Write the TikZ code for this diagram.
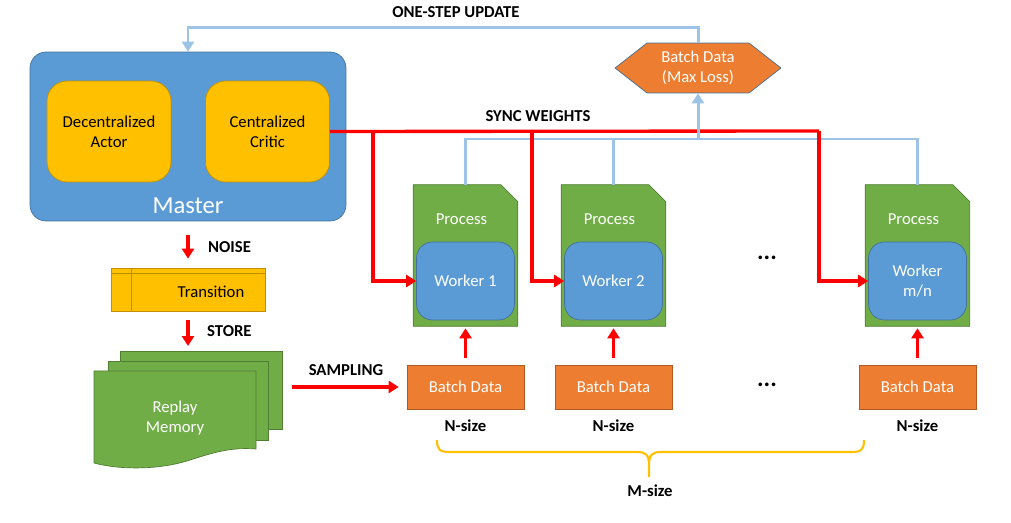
\documentclass[tikz,border=0pt]{standalone}
\usepackage{fontspec}
\setmainfont{Carlito}
\usetikzlibrary{arrows.meta,shapes.symbols,positioning}

\definecolor{masterblue}{HTML}{5B9BD5}
\definecolor{blueborder}{HTML}{41719C}
\definecolor{gold}{HTML}{FFC000}
\definecolor{goldborder}{HTML}{BF9000}
\definecolor{procgreen}{HTML}{70AD47}
\definecolor{greenborder}{HTML}{507E32}
\definecolor{batchorange}{HTML}{ED7D31}
\definecolor{orangeborder}{HTML}{AE5A21}
\definecolor{updateblue}{HTML}{9DC3E6}

\begin{document}
\begin{tikzpicture}[x=0.02cm, y=-0.02cm, >={Triangle[length=0.2cm,width=0.24cm]},
  every node/.style={font=\fontsize{9.5}{11.5}\selectfont},
  box/.style={rectangle, rounded corners=0.32cm, draw=blueborder, fill=masterblue, text=white, align=center},
  agent/.style={rectangle, rounded corners=0.4cm, draw=goldborder, fill=gold, align=center, minimum width=2.48cm, minimum height=2.02cm},
  process/.style={rectangle, minimum width=2.08cm, minimum height=2.82cm, inner sep=0pt},
  worker/.style={box, minimum width=1.96cm, minimum height=1.56cm},
  batch/.style={rectangle, draw=orangeborder, fill=batchorange, text=white, minimum width=2.34cm, minimum height=0.88cm},
  tag/.style={font=\fontsize{9.5}{11.5}\selectfont\bfseries},
  sync/.style={red, line width=1.9pt},
  update/.style={updateblue, line width=1.7pt},
  sheet/.style={fill=procgreen, draw=greenborder}]

\useasboundingbox (0,0) rectangle (1011,523);

\node [box, minimum width=6.32cm, minimum height=3.38cm] (master) at (188,136.5) {};
\node [text=white, font=\fontsize{14}{16}\selectfont] (master-lbl) at (188,206) {Master};
\node [agent] (actor) at (109,131.5) {Decentralized\\Actor};
\node [agent] (critic) at (267.5,131.5) {Centralized\\Critic};

\node [signal, signal to=west and east, signal pointer angle=76, draw=blueborder, fill=batchorange, text=white, align=center, minimum width=3.32cm, minimum height=1cm, inner sep=0pt] (maxloss) at (698,68) {Batch Data\\(Max Loss)};

\foreach \x/\w [count=\i] in {465.5/Worker 1, 613.5/Worker 2, 917.5/{Worker\\m/n}} {
  \node [process] (proc-\i) at (\x,255.5) {};
  \filldraw [sheet] (proc-\i.south west) |- ([xshift=-0.34cm]proc-\i.north east)
    -- ([yshift=-0.34cm]proc-\i.north east) |- cycle;
  \node [text=white] (proc-lbl-\i) at (\x-4,219) {Process};
  \node [worker] (worker-\i) at (\x,281) {\w};
  \node [batch] (batch-\i) at (\x,387) {Batch Data};
  \node [tag] (nsize-\i) at (\x,426) {N-size};
  \draw [sync, ->, shorten <=0.14cm, shorten >=0.04cm] (batch-\i) -- (proc-\i);
}

\foreach \y [count=\i] in {258,385}
  \node [tag, font=\fontsize{14}{16}\selectfont\bfseries] (dots-\i) at (767,\y) {...};

% transition and replay memory
\node [draw=goldborder, fill=gold, minimum width=3.08cm, minimum height=0.86cm,
  path picture={
    \draw [goldborder] ([yshift=-0.1cm]path picture bounding box.north west) -- ([yshift=-0.1cm]path picture bounding box.north east);
    \draw [goldborder] ([xshift=0.4cm]path picture bounding box.north west) -- ([xshift=0.4cm]path picture bounding box.south west);
  }] (transition) at (188,289.5) {};
\node (transition-txt) at (211,292) {Transition};

\filldraw [sheet] (120,351) rectangle (282,429);
\filldraw [sheet] (108,361) rectangle (268,440);
\filldraw [sheet] (94,371) -- (256,371) -- (256,449) .. controls (232,447) and (215,452) .. (190,460) .. controls (160,470) and (120,470) .. (94,463) -- cycle;
\node [text=white, align=center] (memory) at (175,418) {Replay\\Memory};
\coordinate (mem-top) at (188,351);
\coordinate (mem-out) at (292,387);

\draw [sync, ->, shorten <=0.28cm, shorten >=0.18cm] (master.south) -- (transition.north);
\draw [sync, ->, shorten <=0.18cm, shorten >=0.1cm] (transition.south) -- (mem-top);
\draw [sync, ->, shorten >=0.16cm] (mem-out) -- (batch-1.west);

\node [tag, anchor=west] (lbl-noise) at (202,247) {NOISE};
\node [tag, anchor=west] (lbl-store) at (201,331) {STORE};
\node [tag] (lbl-sampling) at (346,370) {SAMPLING};

% gradients go up, weights go down
\coordinate (merge) at (698,139);
\foreach \i in {1,2,3}
  \draw [update] (proc-\i.north) |- (merge);

\foreach \x [count=\i] in {373,532,819}
  \coordinate (drop-\i) at (\x,131);
\draw [sync] (critic.east) -- (drop-3);
\foreach \i in {1,2,3}
  \draw [sync, ->] (drop-\i) |- (worker-\i.west);

\draw [update, ->] (merge) -- (maxloss.south);
\draw [update, ->] (maxloss.north) -- ++(0,-15) -| (master.north);

\node [tag] (lbl-update) at (456,12) {ONE-STEP UPDATE};
\node [tag] (lbl-sync) at (538,116) {SYNC WEIGHTS};

\draw [gold, line width=1.2pt] (437,440) .. controls (437,450) and (440,452) .. (450,452) -- (637,452) .. controls (646,452) and (649,455) .. (649,465) -- (649,477);
\draw [gold, line width=1.2pt] (864,440) .. controls (864,450) and (861,452) .. (851,452) -- (661,452) .. controls (652,452) and (649,455) .. (649,465);
\node [tag] (msize) at (650,491) {M-size};

\end{tikzpicture}
\end{document}
